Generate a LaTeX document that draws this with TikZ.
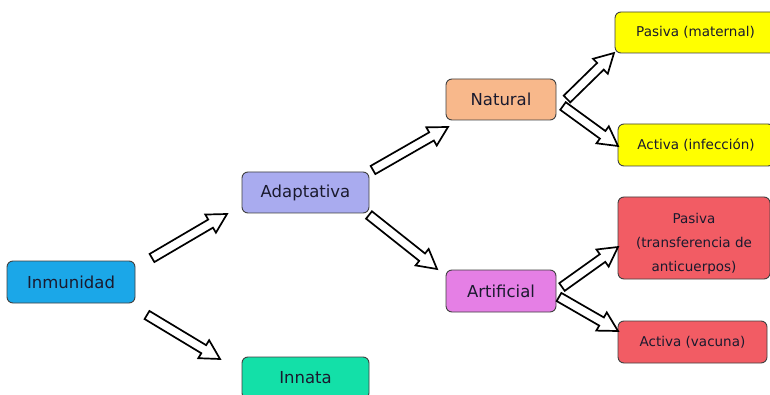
\documentclass[tikz,border=0pt]{standalone}
\usepackage{fontspec}
\setmainfont{DejaVu Sans}
\usetikzlibrary{calc}
\definecolor{cInm}{HTML}{1BA7E8}
\definecolor{cAda}{HTML}{A9ABEF}
\definecolor{cInn}{HTML}{13E0A8}
\definecolor{cNat}{HTML}{F8B88B}
\definecolor{cArt}{HTML}{E57FE5}
\definecolor{cYel}{HTML}{FFFF00}
\definecolor{cRed}{HTML}{F25C64}
\definecolor{cTxt}{HTML}{1A1A2E}
\tikzset{
  box/.style={draw=black!75, line width=0.9pt, rounded corners=6pt, inner sep=0pt, align=center, text=cTxt},
  big/.style={box, font=\fontsize{16.5}{19}\selectfont},
  small/.style={box, font=\fontsize{13.5}{24}\selectfont},
  blk/.style={draw=black, fill=white, line width=1.7pt, line join=miter}
}
\newcommand\blockarrow[2]{%
  \path ($(#2)!19pt!(#1)$) coordinate (bh);
  \draw[blk] ($(#1)!4.7pt!90:(#2)$) -- ($(bh)!4.7pt!-90:(#1)$) -- ($(bh)!10.5pt!-90:(#1)$) -- (#2) -- ($(bh)!10.5pt!90:(#1)$) -- ($(bh)!4.7pt!90:(#1)$) -- ($(#1)!4.7pt!-90:(#2)$) -- cycle;}
\begin{document}
\begin{tikzpicture}[x=1pt,y=-1pt]
\useasboundingbox (0,0) rectangle (770,395);
\clip (0,0) rectangle (770,395);
\fill[white] (0,0) rectangle (770,395);
\node[big, fill=cInm, minimum width=128pt, minimum height=42pt] (inm) at (71,282) {Inmunidad};
\node[big, fill=cAda, minimum width=127pt, minimum height=41pt] (ada) at (305.5,192.5) {Adaptativa};
\node[big, fill=cInn, minimum width=127pt, minimum height=42pt] (inn) at (305.5,378) {Innata};
\node[big, fill=cNat, minimum width=110pt, minimum height=41pt] (nat) at (501,99.5) {Natural};
\node[big, fill=cArt, minimum width=110pt, minimum height=42pt] (art) at (501,291) {Artificial};
\node[small, fill=cYel, minimum width=161pt, minimum height=41pt] (pm) at (695.5,32.5) {Pasiva (maternal)};
\node[small, fill=cYel, minimum width=156pt, minimum height=42pt] (ai) at (696,145) {Activa (infección)};
\node[small, fill=cRed, minimum width=152pt, minimum height=82pt] (pt) at (694,238) {};
\node[font=\fontsize{13.5}{24}\selectfont, text=cTxt, align=center, inner sep=0pt] (ptt) at ([yshift=-6pt]pt.center) {Pasiva\\(transferencia de\\anticuerpos)};
\node[small, fill=cRed, minimum width=149pt, minimum height=42pt] (av) at (692.5,342) {Activa (vacuna)};
% arrow ends
\coordinate (t1) at (152,258); \coordinate (h1) at (227,214);
\coordinate (t2) at (147,315); \coordinate (h2) at (220,359);
\coordinate (t3) at (373,170); \coordinate (h3) at (448,127);
\coordinate (t4) at (369,215); \coordinate (h4) at (437,269);
\coordinate (t5) at (567,99); \coordinate (h5) at (614,53);
\coordinate (t6) at (563,106); \coordinate (h6) at (618,146);
\coordinate (t7) at (562,287); \coordinate (h7) at (618,247);
\coordinate (t8) at (559,297); \coordinate (h8) at (618,331);
\blockarrow{t1}{h1}
\blockarrow{t2}{h2}
\blockarrow{t3}{h3}
\blockarrow{t4}{h4}
\blockarrow{t5}{h5}
\blockarrow{t6}{h6}
\blockarrow{t7}{h7}
\blockarrow{t8}{h8}
\end{tikzpicture}
\end{document}
